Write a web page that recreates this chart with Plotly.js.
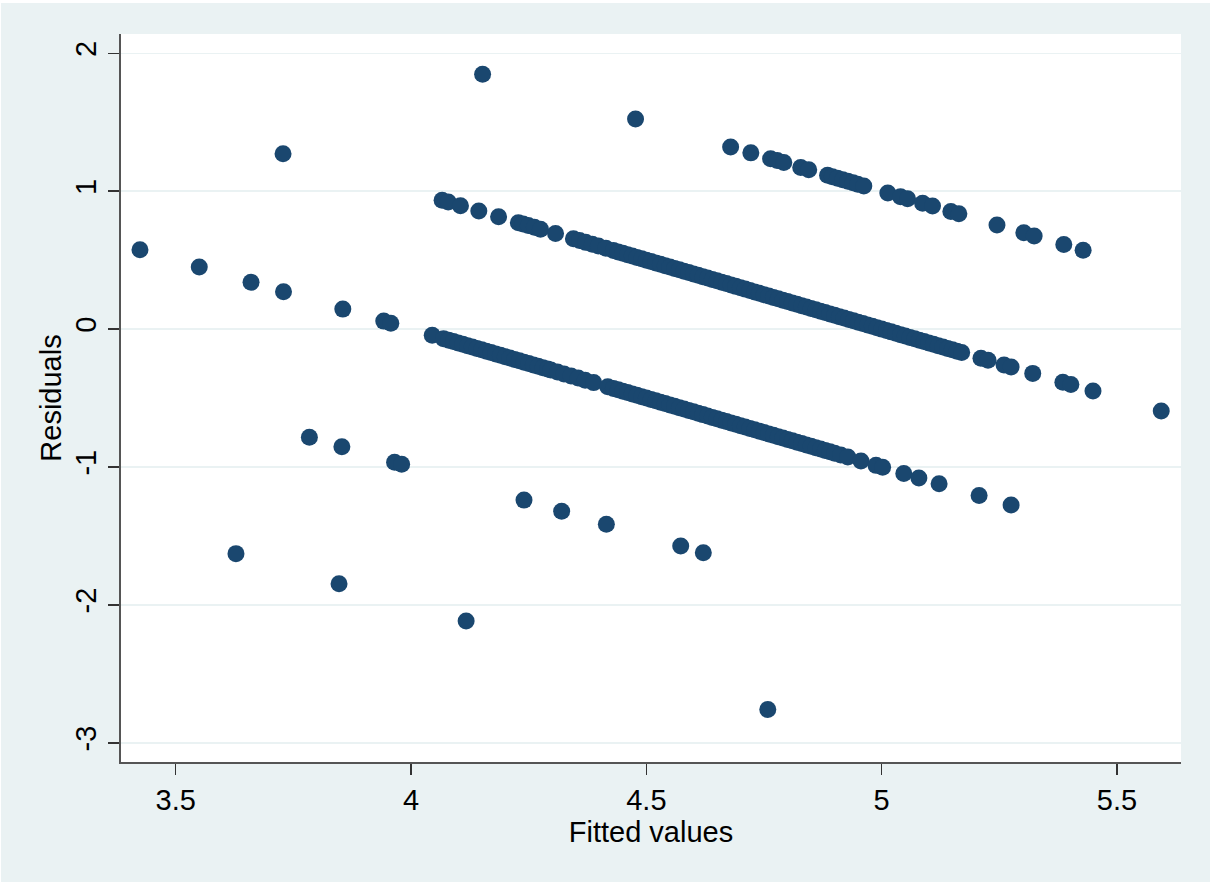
<!DOCTYPE html>
<html>
<head>
<meta charset="utf-8">
<script src="https://cdn.plot.ly/plotly-3.0.1.min.js"></script>
<style>
  html, body { margin: 0; padding: 0; background: #ffffff; }
  #chart { position: absolute; left: 1px; top: 3px; width: 1209px; height: 879px; }
</style>
</head>
<body>
<div id="chart"></div>
<script>
// Observations at outcome level 4 (left run)
const fittedA = [3.424, 3.550, 3.660, 3.729, 3.855, 3.942, 3.957];
const residA  = [0.576, 0.450, 0.340, 0.271, 0.145, 0.058, 0.043];

// Lower band (outcome 4)
const fittedB = [4.045, 4.069, 4.08, 4.09, 4.10, 4.11, 4.12, 4.13, 4.14, 4.15, 4.16, 4.17, 4.18, 4.19, 4.20, 4.21, 4.22, 4.23, 4.24, 4.25, 4.26, 4.27, 4.28, 4.29, 4.297,
  4.311, 4.325, 4.34, 4.355, 4.37, 4.388,
  4.418, 4.43, 4.44, 4.45, 4.46, 4.47, 4.48, 4.49, 4.50, 4.51, 4.52, 4.53, 4.54, 4.55, 4.56, 4.57, 4.58, 4.59, 4.60, 4.61, 4.62, 4.63, 4.64, 4.65, 4.66, 4.67, 4.68, 4.69, 4.70,
  4.71, 4.72, 4.73, 4.74, 4.75, 4.76, 4.77, 4.78, 4.79, 4.80, 4.81, 4.82, 4.83, 4.84, 4.85, 4.86, 4.87, 4.88, 4.89, 4.90, 4.913,
  4.928, 4.956, 4.988, 5.002, 5.047, 5.079, 5.122, 5.207, 5.275];
const residB  = [-0.045, -0.069, -0.08, -0.09, -0.10, -0.11, -0.12, -0.13, -0.14, -0.15, -0.16, -0.17, -0.18, -0.19, -0.20, -0.21, -0.22, -0.23, -0.24, -0.25, -0.26, -0.27, -0.28, -0.29, -0.297,
  -0.311, -0.325, -0.34, -0.355, -0.37, -0.388,
  -0.418, -0.43, -0.44, -0.45, -0.46, -0.47, -0.48, -0.49, -0.50, -0.51, -0.52, -0.53, -0.54, -0.55, -0.56, -0.57, -0.58, -0.59, -0.60, -0.61, -0.62, -0.63, -0.64, -0.65, -0.66, -0.67, -0.68, -0.69, -0.70,
  -0.71, -0.72, -0.73, -0.74, -0.75, -0.76, -0.77, -0.78, -0.79, -0.80, -0.81, -0.82, -0.83, -0.84, -0.85, -0.86, -0.87, -0.88, -0.89, -0.90, -0.913,
  -0.928, -0.956, -0.988, -1.002, -1.047, -1.079, -1.122, -1.207, -1.275];

// Middle band (outcome 5)
const fittedC = [3.728, 4.066, 4.079, 4.105, 4.144, 4.186, 4.228, 4.238, 4.249, 4.262, 4.275, 4.307, 4.345, 4.358, 4.371, 4.385, 4.398, 4.414, 4.43,
  4.44, 4.45, 4.46, 4.47, 4.48, 4.49, 4.50, 4.51, 4.52, 4.53, 4.54, 4.55, 4.56, 4.57, 4.58, 4.59, 4.60, 4.61, 4.62, 4.63, 4.64, 4.65, 4.66, 4.67, 4.68, 4.69, 4.70,
  4.71, 4.72, 4.73, 4.74, 4.75, 4.76, 4.77, 4.78, 4.79, 4.80, 4.81, 4.82, 4.83, 4.84, 4.85, 4.86, 4.87, 4.88, 4.89, 4.90, 4.91, 4.92, 4.93, 4.94, 4.95,
  4.96, 4.97, 4.98, 4.99, 5.00, 5.01, 5.02, 5.03, 5.04, 5.05, 5.06, 5.07, 5.08, 5.09, 5.10, 5.11, 5.12, 5.13, 5.14, 5.15, 5.16, 5.17,
  5.211, 5.226, 5.26, 5.275, 5.321, 5.385, 5.402, 5.449, 5.594];
const residC  = [1.272, 0.934, 0.921, 0.895, 0.856, 0.814, 0.772, 0.762, 0.751, 0.738, 0.725, 0.693, 0.655, 0.642, 0.629, 0.615, 0.602, 0.586, 0.57,
  0.56, 0.55, 0.54, 0.53, 0.52, 0.51, 0.50, 0.49, 0.48, 0.47, 0.46, 0.45, 0.44, 0.43, 0.42, 0.41, 0.40, 0.39, 0.38, 0.37, 0.36, 0.35, 0.34, 0.33, 0.32, 0.31, 0.30,
  0.29, 0.28, 0.27, 0.26, 0.25, 0.24, 0.23, 0.22, 0.21, 0.20, 0.19, 0.18, 0.17, 0.16, 0.15, 0.14, 0.13, 0.12, 0.11, 0.10, 0.09, 0.08, 0.07, 0.06, 0.05,
  0.04, 0.03, 0.02, 0.01, 0.00, -0.01, -0.02, -0.03, -0.04, -0.05, -0.06, -0.07, -0.08, -0.09, -0.10, -0.11, -0.12, -0.13, -0.14, -0.15, -0.16, -0.17,
  -0.211, -0.226, -0.26, -0.275, -0.321, -0.385, -0.402, -0.449, -0.594];

// Upper band (outcome 6)
const fittedD = [4.152, 4.477, 4.679, 4.722, 4.764, 4.778, 4.792, 4.828, 4.845, 4.885, 4.895, 4.906, 4.917, 4.928, 4.939, 4.949, 4.962,
  5.013, 5.04, 5.055, 5.087, 5.108, 5.147, 5.164, 5.245, 5.302, 5.324, 5.387, 5.428];
const residD  = [1.848, 1.523, 1.321, 1.278, 1.236, 1.222, 1.208, 1.172, 1.155, 1.115, 1.105, 1.094, 1.083, 1.072, 1.061, 1.051, 1.038,
  0.987, 0.96, 0.945, 0.913, 0.892, 0.853, 0.836, 0.755, 0.698, 0.676, 0.613, 0.572];

// Outcome 3
const fittedE = [3.784, 3.853, 3.965, 3.980, 4.240, 4.320, 4.415, 4.573, 4.621];
const residE  = [-0.784, -0.853, -0.965, -0.980, -1.240, -1.320, -1.415, -1.573, -1.621];

// Outcome 2
const fittedF = [3.628, 3.847, 4.117, 4.758];
const residF  = [-1.628, -1.847, -2.117, -2.758];

const xTicks = [3.5, 4, 4.5, 5, 5.5];
const xTickLabels = ["3.5", "4", "4.5", "5", "5.5"];
const yTicks = [-3, -2, -1, 0, 1, 2];
const yTickLabels = ["-3", "-2", "-1", "0", "1", "2"];

const xs = [].concat(fittedA, fittedB, fittedC, fittedD, fittedE, fittedF);
const ys = [].concat(residA, residB, residC, residD, residE, residF);

const FONT = "Liberation Sans, Arial, sans-serif";

const trace = {
  type: "scatter",
  mode: "markers",
  x: xs,
  y: ys,
  marker: { color: "#1a476f", size: 17, line: { width: 0 } },
  hoverinfo: "skip"
};

const layout = {
  width: 1209,
  height: 879,
  margin: { l: 120, r: 29, t: 31, b: 120, pad: 0 },
  paper_bgcolor: "#eaf2f3",
  plot_bgcolor: "#ffffff",
  showlegend: false,
  font: { family: FONT, size: 29, color: "#000000" },
  xaxis: {
    range: [3.3837, 5.636],
    tickvals: xTicks,
    ticktext: xTickLabels,
    ticks: "outside",
    ticklen: 11,
    tickwidth: 1.5,
    tickcolor: "#333333",
    showline: true,
    linecolor: "#555555",
    linewidth: 2,
    showgrid: false,
    zeroline: false,
    tickfont: { family: FONT, size: 29, color: "#000000" },
    title: { text: "Fitted values", font: { family: FONT, size: 29, color: "#000000" }, standoff: 3 }
  },
  yaxis: {
    range: [-3.139, 2.14],
    tickvals: yTicks,
    ticktext: yTickLabels,
    tickangle: -90,
    ticks: "outside",
    ticklen: 11,
    tickwidth: 1.5,
    tickcolor: "#333333",
    showline: true,
    linecolor: "#555555",
    linewidth: 2,
    showgrid: true,
    gridcolor: "#eaf2f3",
    gridwidth: 1.5,
    zeroline: false,
    tickfont: { family: FONT, size: 29, color: "#000000" },
    title: { text: "Residuals", font: { family: FONT, size: 29, color: "#000000" }, standoff: 0 }
  }
};

Plotly.newPlot("chart", [trace], layout, { displayModeBar: false, staticPlot: true });
</script>
</body>
</html>
